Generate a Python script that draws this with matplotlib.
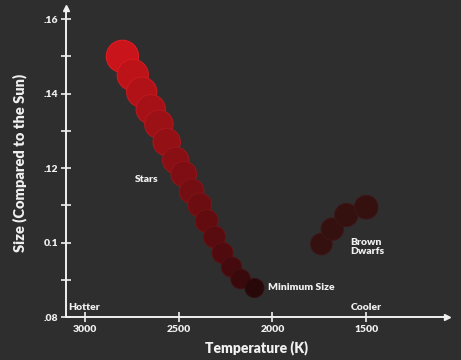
import numpy as np
import matplotlib
matplotlib.use("Agg")
import matplotlib.pyplot as plt
from matplotlib.colors import LinearSegmentedColormap

# values
star_temp = [2800, 2745, 2697, 2649, 2606, 2564, 2516, 2473, 2431, 2388,
             2351, 2309, 2266, 2218, 2170, 2096]
star_size = [0.150, 0.145, 0.1404, 0.1358, 0.1318, 0.127, 0.1221, 0.1184,
             0.1138, 0.1101, 0.1058, 0.1015, 0.0972, 0.0934, 0.0902, 0.0878]
dwarf_temp = [1739, 1681, 1606, 1500]
dwarf_size = [0.0996, 0.1036, 0.1074, 0.1095]

x_ticks = [3000, 2500, 2000, 1500]
y_ticks = [0.08, 0.10, 0.12, 0.14, 0.16]
y_tick_labels = [".08", "0.1", ".12", ".14", ".16"]

bg = "#2e2e2e"
fg = "#f0f0f0"
plt.rcParams["font.family"] = ["Lato", "DejaVu Sans"]

fig = plt.figure(figsize=(4.61, 3.6), dpi=100, facecolor=bg)
ax = fig.add_axes([0.1432, 0.1194, 0.8264, 0.8584], facecolor=bg)

ax.set_xlim(3101, 1069)
ax.set_ylim(0.08, 0.163)


def marker_area(sizes):
    # radius in pixels roughly proportional to the size value
    r_px = np.array(sizes) * 108
    return (2 * r_px * 0.72) ** 2


star_cmap = LinearSegmentedColormap.from_list("stars", ["#29080a", "#c8141a"])
norm_t = (np.array(star_temp) - min(star_temp)) / (max(star_temp) - min(star_temp))
star_cols = star_cmap(norm_t)
edge_cols = star_cols.copy()
edge_cols[:, :3] = np.clip(edge_cols[:, :3] * 1.12 + 0.02, 0, 1)

ax.scatter(star_temp, star_size, s=marker_area(star_size), c=star_cols,
           edgecolors=edge_cols, linewidths=0.7, zorder=3)
ax.scatter(dwarf_temp, dwarf_size, s=marker_area(dwarf_size), c="#34100f",
           edgecolors="#3e1517", linewidths=0.7, zorder=3)

# axes with arrows
for side in ["top", "right"]:
    ax.spines[side].set_visible(False)
for side in ["left", "bottom"]:
    ax.spines[side].set_color(fg)
    ax.spines[side].set_linewidth(1.4)
ax.plot(1, 0, ">", color=fg, ms=5, transform=ax.transAxes, clip_on=False)
ax.plot(0, 1, "^", color=fg, ms=5, transform=ax.transAxes, clip_on=False)

ax.set_xticks(x_ticks)
ax.set_xticklabels([str(t) for t in x_ticks])
ax.set_yticks(y_ticks)
ax.set_yticklabels(y_tick_labels)
ax.set_yticks([0.09, 0.11, 0.13, 0.15], minor=True)
ax.tick_params(axis="both", which="both", direction="inout", length=7,
               width=1.2, color=fg, labelcolor=fg, labelsize=7.5, pad=2)
for lab in ax.get_xticklabels() + ax.get_yticklabels():
    lab.set_fontweight("heavy")

ax.set_xlabel("Temperature (K)", color=fg, fontsize=10, fontweight="heavy",
              labelpad=5)
ax.set_ylabel("Size (Compared to the Sun)", color=fg, fontsize=10.5,
              fontweight="heavy", labelpad=12)

txt = dict(color=fg, fontsize=7.5, fontweight="heavy")
ax.text(2670, 0.117, "Stars", ha="center", va="center", **txt)
ax.text(2021, 0.0878, "Minimum Size", ha="left", va="center", **txt)
ax.text(1585, 0.0988, "Brown\nDwarfs", ha="left", va="center",
        linespacing=0.9, **txt)
ax.text(3090, 0.0825, "Hotter", ha="left", va="center", **txt)
ax.text(1500, 0.0825, "Cooler", ha="center", va="center", **txt)

fig.savefig("out.png", dpi=100, facecolor=bg)
